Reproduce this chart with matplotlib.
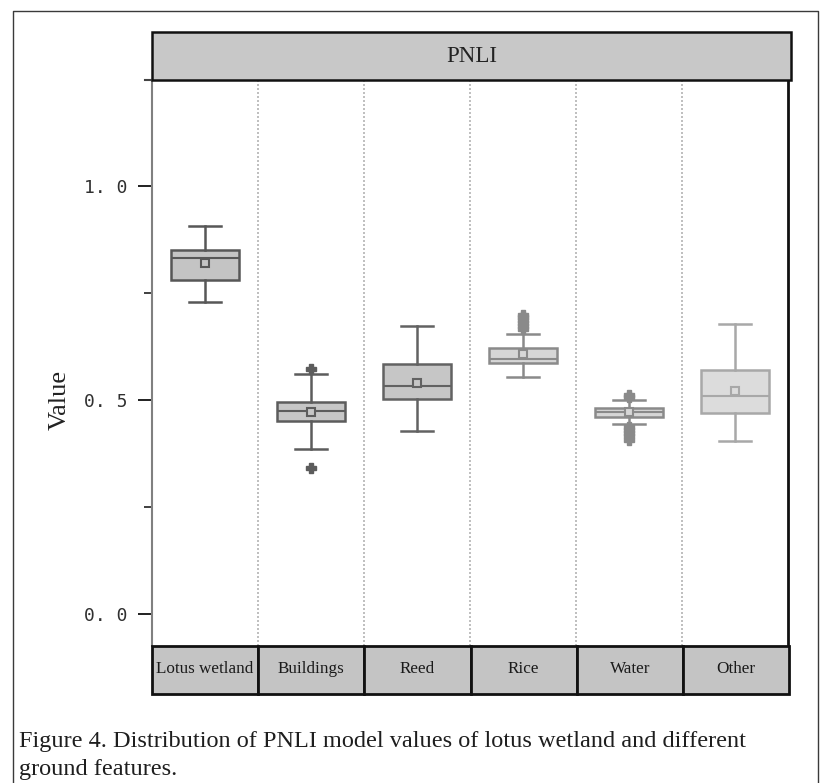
import matplotlib
matplotlib.use("Agg")
import matplotlib.pyplot as plt
from matplotlib.patches import Rectangle

# ---- data -------------------------------------------------------------
categories = ["Lotus wetland", "Buildings", "Reed", "Rice", "Water", "Other"]
whisker_low = [0.730, 0.385, 0.428, 0.553, 0.445, 0.405]
q1 = [0.780, 0.451, 0.502, 0.587, 0.460, 0.470]
median = [0.831, 0.475, 0.532, 0.595, 0.471, 0.509]
q3 = [0.850, 0.495, 0.583, 0.621, 0.481, 0.569]
whisker_high = [0.907, 0.561, 0.674, 0.655, 0.500, 0.677]
means = [0.819, 0.472, 0.540, 0.607, 0.471, 0.522]
outliers = [
    [],
    [0.572, 0.340],
    [],
    [0.665, 0.672, 0.680, 0.688, 0.695, 0.699],
    [0.508, 0.512, 0.437, 0.430, 0.422, 0.415, 0.407],
    [],
]
y_ticks = [0.0, 0.5, 1.0]
y_tick_labels = ["0. 0", "0. 5", "1. 0"]
y_minor_ticks = [0.25, 0.75]
panel_title = "PNLI"
y_label = "Value"
caption = ("Figure 4. Distribution of PNLI model values of lotus wetland and different\n"
           "ground features.")

# ---- styling ----------------------------------------------------------
edge_colors = ["#575757", "#5c5c5c", "#626262", "#8a8a8a", "#8a8a8a", "#a8a8a8"]
fill_colors = ["#c4c4c4", "#c6c6c6", "#c6c6c6", "#d6d6d6", "#d6d6d6", "#dcdcdc"]
serif = ["Liberation Serif", "DejaVu Serif"]

W, H = 822, 783
fig = plt.figure(figsize=(W / 100, H / 100), dpi=100)


def box(x0, y0, x1, y1):
    """Pixel box (top-left origin) -> figure fraction rect."""
    return [x0 / W, 1 - y1 / H, (x1 - x0) / W, (y1 - y0) / H]


# outer frame
frame = fig.add_axes([0, 0, 1, 1])
frame.set_xlim(0, W)
frame.set_ylim(H, 0)
frame.axis("off")
frame.plot([13, 13, 818, 818], [790, 11, 11, 790], color="#3a3a3a", lw=1.0)

# main plot area
ax = fig.add_axes(box(152, 80, 788, 646))
n = len(categories)
y_lo, y_hi = -0.0748, 1.2477
ax.set_xlim(0.5, n + 0.5)
ax.set_ylim(y_lo, y_hi)

for i in range(n):
    stats = [dict(whislo=whisker_low[i], q1=q1[i], med=median[i], q3=q3[i],
                  whishi=whisker_high[i], mean=means[i], fliers=outliers[i])]
    ec = edge_colors[i]
    ax.bxp(stats, positions=[i + 1], widths=0.64, capwidths=0.31,
           patch_artist=True, showmeans=True, showfliers=True,
           boxprops=dict(facecolor=fill_colors[i], edgecolor=ec, lw=1.8),
           medianprops=dict(color=ec, lw=1.5),
           whiskerprops=dict(color=ec, lw=1.8),
           capprops=dict(color=ec, lw=1.8),
           meanprops=dict(marker="s", markersize=6, markerfacecolor=fill_colors[i],
                          markeredgecolor=ec, markeredgewidth=1.5),
           flierprops=dict(marker="P", markersize=7.5, markerfacecolor=ec,
                           markeredgecolor=ec, linestyle="none"))

for b in range(1, n):
    ax.axvline(b + 0.5, color="#b4b4b4", lw=1.2, ls=(0, (1.2, 1.2)), zorder=0)

ax.set_xticks([])
ax.set_yticks(y_ticks)
ax.set_yticklabels(y_tick_labels, fontfamily="DejaVu Sans Mono", fontsize=13, color="#303030")
ax.set_yticks(y_minor_ticks, minor=True)
ax.tick_params(axis="y", which="major", length=10, width=1.4, color="#202020", pad=8)
ax.tick_params(axis="y", which="minor", length=6, width=1.2, color="#202020")
ax.spines["left"].set_color("#808080")
ax.spines["left"].set_linewidth(1.5)
ax.spines["right"].set_color("#111111")
ax.spines["right"].set_linewidth(2.0)
ax.spines["top"].set_visible(False)
ax.spines["bottom"].set_visible(False)
ax.set_ylabel(y_label, fontfamily=serif, fontsize=19, color="#222222")
ax.yaxis.set_label_coords(-0.128, (0.5 - y_lo) / (y_hi - y_lo))

# header strip
hd = fig.add_axes(box(152, 32, 791, 80))
hd.set_xlim(0, 1)
hd.set_ylim(0, 1)
hd.axis("off")
hd.add_patch(Rectangle((0, 0), 1, 1, facecolor="#c8c8c8", edgecolor="#111111",
                       lw=1.8, clip_on=False))
hd.text(0.5, 0.5, panel_title, ha="center", va="center", fontfamily=serif,
        fontsize=16.5, color="#222222")
frame.plot([145, 152], [80, 80], color="#444444", lw=1.5)

# category strip
st = fig.add_axes(box(152, 646, 789, 694))
st.set_xlim(0.5, n + 0.5)
st.set_ylim(0, 1)
st.axis("off")
for i, name in enumerate(categories):
    st.add_patch(Rectangle((i + 0.5, 0), 1, 1, facecolor="#c4c4c4", edgecolor="#111111",
                           lw=2.0, clip_on=False))
    st.text(i + 1, 0.52, name, ha="center", va="center", fontfamily=serif,
            fontsize=12.3, color="#1a1a1a")

# caption
frame.text(19, 731, caption, ha="left", va="top", fontfamily=serif, fontsize=17.5,
           color="#1e1e1e", linespacing=1.45)

fig.savefig("out.png", dpi=100)
